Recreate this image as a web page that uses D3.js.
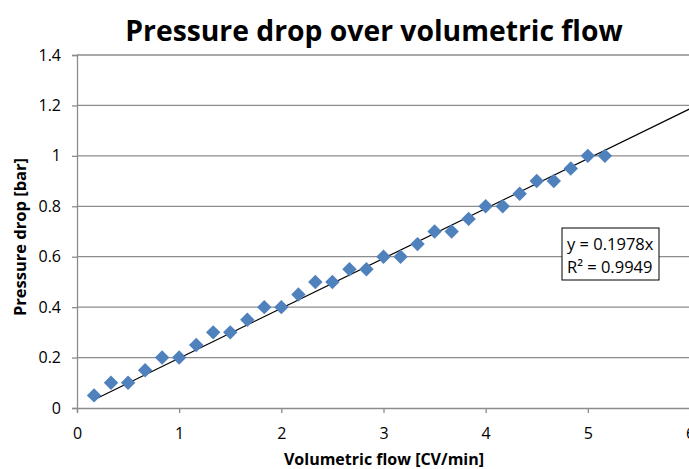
<!DOCTYPE html>
<html>
<head>
<meta charset="utf-8">
<script src="https://cdn.jsdelivr.net/npm/d3@7"></script>
<style>
  body { margin: 0; background: #fff; }
  svg { display: block; font-family: "Open Sans", sans-serif; }
</style>
</head>
<body>
<div id="container"></div>
<script>
/* DATA */
const flow = [0.167, 0.333, 0.5, 0.667, 0.833, 1.0, 1.167, 1.333, 1.5, 1.667, 1.833, 2.0,
  2.167, 2.333, 2.5, 2.667, 2.833, 3.0, 3.167, 3.333, 3.5, 3.667, 3.833, 4.0,
  4.167, 4.333, 4.5, 4.667, 4.833, 5.0, 5.167];
const drop = [0.05, 0.1, 0.1, 0.15, 0.2, 0.2, 0.25, 0.3, 0.3, 0.35, 0.4, 0.4,
  0.45, 0.5, 0.5, 0.55, 0.55, 0.6, 0.6, 0.65, 0.7, 0.7, 0.75, 0.8,
  0.8, 0.85, 0.9, 0.9, 0.95, 1.0, 1.0];
const xTicks = [0, 1, 2, 3, 4, 5, 6];
const yTicks = [0, 0.2, 0.4, 0.6, 0.8, 1, 1.2, 1.4];
const slope = 0.1978;
const trendText = ["y = 0.1978x", "R\u00b2 = 0.9949"];

/* CONSTANTS */
const width = 689, height = 469;
const margin = { top: 55, bottom: 61, left: 77, right: -1 };

const svg = d3.select("#container")
  .append("svg")
  .attr("width", width)
  .attr("height", height);

const x = d3.scaleLinear()
  .domain([0, 6])
  .range([margin.left, width - margin.right]);

const y = d3.scaleLinear()
  .domain([0, 1.4])
  .range([height - margin.bottom, margin.top]);

// gridlines
svg.append("g")
  .selectAll("line")
  .data(yTicks.slice(1))
  .join("line")
  .attr("x1", x(0))
  .attr("x2", x(6))
  .attr("y1", d => y(d))
  .attr("y2", d => y(d))
  .attr("stroke", "#8c8c8c")
  .attr("stroke-width", 1.3);

// axes
const xAxis = d3.axisBottom(x)
  .tickValues(xTicks)
  .tickSize(5)
  .tickPadding(15)
  .tickFormat(d3.format("d"));

const yAxis = d3.axisLeft(y)
  .tickValues(yTicks)
  .tickSize(5)
  .tickPadding(11)
  .tickFormat(d => d === 0 || d === 1 ? d3.format("d")(d) : d3.format(".1f")(d));

const gx = svg.append("g")
  .attr("transform", `translate(0,${y(0)})`)
  .call(xAxis);

const gy = svg.append("g")
  .attr("transform", `translate(${x(0)},0)`)
  .call(yAxis);

[gx, gy].forEach(g => {
  g.select(".domain").attr("stroke", "#8c8c8c").attr("stroke-width", 1.3);
  g.selectAll(".tick line").attr("stroke", "#8c8c8c").attr("stroke-width", 1.3);
  g.selectAll(".tick text")
    .attr("font-family", "Open Sans, sans-serif")
    .attr("font-size", 16)
    .attr("fill", "#000");
});

// trendline
svg.append("line")
  .attr("x1", x(flow[0]))
  .attr("y1", y(slope * flow[0]))
  .attr("x2", x(6))
  .attr("y2", y(slope * 6))
  .attr("stroke", "#000")
  .attr("stroke-width", 1.2);

// markers
const diamond = d3.symbol().type(d3.symbolSquare).size(104);
svg.append("g")
  .selectAll("path")
  .data(flow.map((f, i) => ({ f, p: drop[i] })))
  .join("path")
  .attr("d", diamond)
  .attr("fill", "#4f81bd")
  .attr("transform", d => `translate(${x(d.f)},${y(d.p)}) rotate(45)`);

// equation box
const box = svg.append("g").attr("transform", "translate(562,228)");
box.append("rect")
  .attr("width", 97)
  .attr("height", 52)
  .attr("fill", "#fff")
  .attr("stroke", "#000")
  .attr("stroke-width", 1);
box.selectAll("text")
  .data(trendText)
  .join("text")
  .attr("x", 5)
  .attr("y", (d, i) => 22 + i * 23)
  .attr("font-size", 16.5)
  .text(d => d);

// title
svg.append("text")
  .attr("x", 374)
  .attr("y", 41)
  .attr("text-anchor", "middle")
  .attr("font-size", 28.3)
  .attr("font-weight", "bold")
  .text("Pressure drop over volumetric flow");

// axis titles
svg.append("text")
  .attr("x", 384)
  .attr("y", 465)
  .attr("text-anchor", "middle")
  .attr("font-size", 16)
  .attr("font-weight", "bold")
  .text("Volumetric flow [CV/min]");

svg.append("text")
  .attr("transform", `translate(26,237) rotate(-90)`)
  .attr("text-anchor", "middle")
  .attr("font-size", 16.5)
  .attr("font-weight", "bold")
  .text("Pressure drop [bar]");
</script>
</body>
</html>
